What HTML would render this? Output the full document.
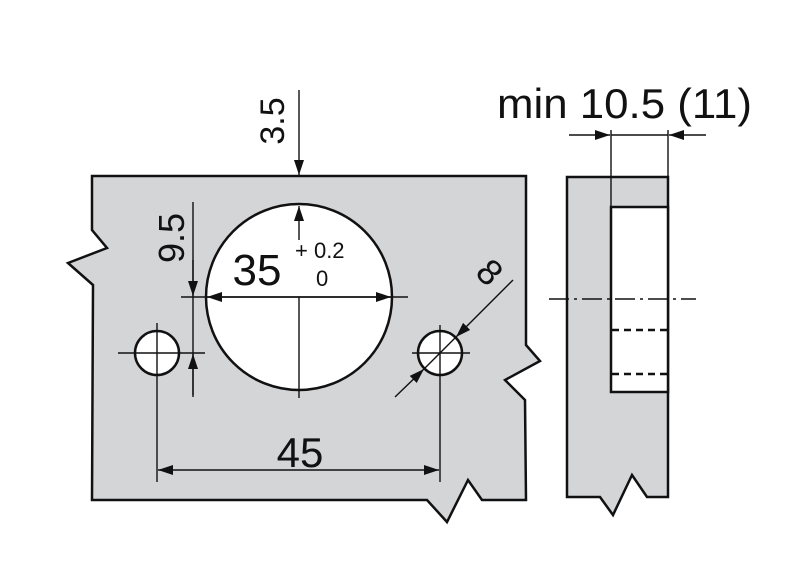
<!DOCTYPE html>
<html><head><meta charset="utf-8"><style>html,body{margin:0;padding:0;background:#fff}svg{display:block}text{font-family:"Liberation Sans",Arial,sans-serif;fill:#111}</style></head>
<body>
<svg width="801" height="586" viewBox="0 0 801 586" xmlns="http://www.w3.org/2000/svg">
<defs>
<marker id="a" viewBox="0 0 15 10" refX="15" refY="5" markerWidth="15" markerHeight="10" markerUnits="userSpaceOnUse" orient="auto"><path d="M0,0 L15,5 L0,10 z" fill="#111"/></marker>
</defs>
<path d="M92,176 L526,176 L526,345 L540,361 L505,380 L525,400 L526,500 L482,500 L468,480 L447,522 L427,500 L92,500 L93,285 L68,263 L107,248 L92,230 Z" fill="#d4d5d7" stroke="#111" stroke-width="2.5" stroke-linejoin="miter"/>
<circle cx="299" cy="297" r="93" fill="#fff" stroke="#111" stroke-width="2.5"/>
<circle cx="157" cy="353" r="22" fill="#fff" stroke="#111" stroke-width="2.5"/>
<circle cx="440" cy="353" r="22" fill="#fff" stroke="#111" stroke-width="2.5"/>
<g stroke="#111" stroke-width="1.4" fill="none">
<line x1="181" y1="297" x2="408" y2="297"/>
<line x1="299" y1="297" x2="299" y2="398"/>
<line x1="118" y1="353" x2="205" y2="353"/>
<line x1="157" y1="323" x2="157" y2="482"/>
<line x1="412" y1="353" x2="470" y2="353"/>
<line x1="440" y1="325" x2="440" y2="482"/>
<line x1="193" y1="202" x2="193" y2="397"/>
<line x1="193" y1="260" x2="193" y2="296" marker-end="url(#a)"/>
<line x1="193" y1="395" x2="193" y2="354" marker-end="url(#a)"/>
<line x1="299" y1="90" x2="299" y2="175" marker-end="url(#a)"/>
<line x1="299" y1="240" x2="299" y2="206" marker-end="url(#a)"/>
<line x1="299" y1="297" x2="207" y2="297" marker-end="url(#a)"/>
<line x1="299" y1="297" x2="391" y2="297" marker-end="url(#a)"/>
<line x1="513" y1="280" x2="456" y2="337" marker-end="url(#a)"/>
<line x1="456" y1="337" x2="424" y2="369"/>
<line x1="395" y1="397" x2="424" y2="369" marker-end="url(#a)"/>
<line x1="299" y1="470" x2="158" y2="470" marker-end="url(#a)"/>
<line x1="299" y1="470" x2="439" y2="470" marker-end="url(#a)"/>
</g>
<text x="257" y="285" font-size="44" text-anchor="middle">35</text>
<text x="295" y="258" font-size="22">+ 0.2</text>
<text x="316" y="286" font-size="22">0</text>
<text x="300" y="467" font-size="42" text-anchor="middle">45</text>
<text transform="translate(184,238) rotate(-90)" font-size="36" text-anchor="middle">9.5</text>
<text transform="translate(284,121) rotate(-90)" font-size="34" text-anchor="middle">3.5</text>
<text transform="translate(481,281) rotate(45)" font-size="36" text-anchor="middle">8</text>
<path d="M567,177 L668,177 L668,497 L647,497 L632,475 L613,515 L600,497 L567,497 Z" fill="#d4d5d7" stroke="#111" stroke-width="2.5"/>
<rect x="611" y="207" width="57" height="185" fill="#fff" stroke="#111" stroke-width="2.5"/>
<g stroke="#111" fill="none">
<line x1="612" y1="330" x2="667" y2="330" stroke-width="2.5" stroke-dasharray="7,5"/>
<line x1="612" y1="374" x2="667" y2="374" stroke-width="2.5" stroke-dasharray="7,5"/>
<line x1="549" y1="299" x2="696" y2="299" stroke-width="1.4" stroke-dasharray="20,5,3,5"/>
<line x1="611" y1="130" x2="611" y2="207" stroke-width="1.4"/>
<line x1="668" y1="130" x2="668" y2="177" stroke-width="1.4"/>
<line x1="611" y1="135" x2="668" y2="135" stroke-width="1.4"/>
<line x1="569" y1="135" x2="610" y2="135" stroke-width="1.4" marker-end="url(#a)"/>
<line x1="706" y1="135" x2="669" y2="135" stroke-width="1.4" marker-end="url(#a)"/>
</g>
<text x="497" y="118" font-size="42" textLength="255" lengthAdjust="spacingAndGlyphs">min 10.5 (11)</text>
</svg>
</body></html>
